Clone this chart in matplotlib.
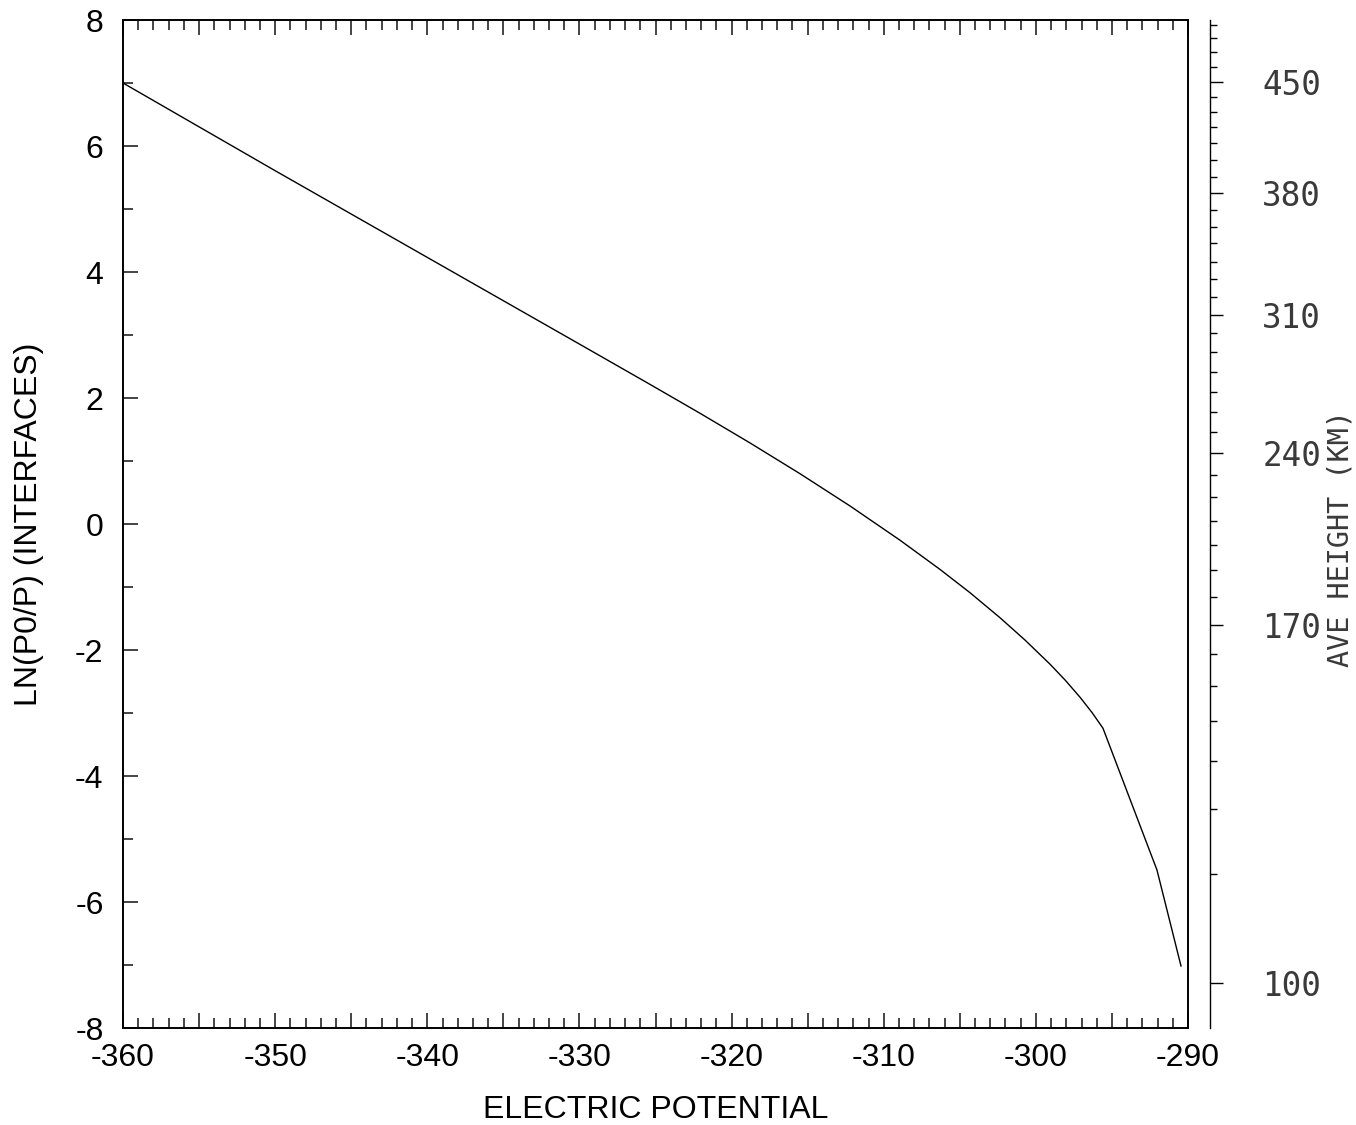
import numpy as np
import matplotlib
matplotlib.use("Agg")
import matplotlib.pyplot as plt
from matplotlib.ticker import MultipleLocator, FixedLocator, FuncFormatter

plt.rcParams['font.family'] = ['Liberation Sans', 'DejaVu Sans']
plt.rcParams['axes.unicode_minus'] = False

# curve
potential = [-360, -350, -340, -330, -325.36, -322.07, -318.79, -315.50,
             -312.22, -308.93, -306.30, -304.33, -302.36, -300.71, -299.07,
             -298.08, -297.10, -296.31, -295.59, -292.04, -290.46]
ln_p0_p = [7.0, 5.608, 4.232, 2.856, 2.216, 1.757, 1.287, 0.798,
           0.287, -0.257, -0.721, -1.090, -1.487, -1.843, -2.225,
           -2.476, -2.749, -2.992, -3.241, -5.492, -7.016]

# average height scale (km) and where each value sits on the ln(P0/P) axis
height_km = list(range(100, 500, 10))
height_ln = [-7.281, -5.560, -4.529, -3.762, -3.122, -2.571, -2.063, -1.603,
             -1.154, -0.730, -0.333, 0.052, 0.433, 0.778, 1.122, 1.465,
             1.783, 2.100, 2.417, 2.735, 3.027, 3.317, 3.608, 3.884,
             4.163, 4.456, 4.719, 4.984, 5.259, 5.513, 5.778, 6.043,
             6.297, 6.544, 6.783, 7.021, 7.259, 7.487, 7.710, 7.921]
height_labels = [100, 170, 240, 310, 380, 450]

fig = plt.figure(figsize=(13.56, 11.25), dpi=100)
ax = fig.add_axes([123/1356, 97/1125, 1065/1356, 1008/1125])

ax.plot(potential, ln_p0_p, color='black', lw=1.0)
ax.set_xlim(-360, -290)
ax.set_ylim(-8, 8)

ax.xaxis.set_major_locator(MultipleLocator(5))
ax.xaxis.set_minor_locator(MultipleLocator(1))
ax.xaxis.set_major_formatter(FuncFormatter(lambda v, p: '%d' % v if v % 10 == 0 else ''))
ax.yaxis.set_major_locator(MultipleLocator(2))
ax.yaxis.set_minor_locator(MultipleLocator(1))

ax.tick_params(which='both', direction='in', top=True, right=True,
               color='#444444', width=1.4, labelsize=23)
ax.tick_params(which='major', length=11)
ax.tick_params(which='minor', length=7)
ax.tick_params(axis='x', which='major', pad=11)
ax.tick_params(axis='y', which='major', pad=14)
for s in ax.spines.values():
    s.set_linewidth(1.4)

ax.set_xlabel('ELECTRIC POTENTIAL', fontsize=23)
ax.xaxis.set_label_coords(0.5, -0.066)
ax.set_ylabel('LN(P0/P) (INTERFACES)', fontsize=23)
ax.yaxis.set_label_coords(-0.074, 0.5)

# separate height axis on the right
ax2 = ax.twinx()
ax2.set_ylim(-8, 8)
for side in ['left', 'top', 'bottom']:
    ax2.spines[side].set_visible(False)
ax2.spines['right'].set_position(('outward', 16))
ax2.spines['right'].set_linewidth(1.0)
major_ln = [v for h, v in zip(height_km, height_ln) if h in height_labels]
minor_ln = [v for h, v in zip(height_km, height_ln) if h not in height_labels]
ax2.yaxis.set_major_locator(FixedLocator(major_ln))
ax2.yaxis.set_minor_locator(FixedLocator(minor_ln))
ax2.set_yticklabels([str(h) for h in height_labels])
ax2.tick_params(which='both', direction='out', width=1.0, color='black')
ax2.tick_params(which='major', length=9.4, pad=28)
ax2.tick_params(which='minor', length=5)
for t in ax2.get_yticklabels():
    t.set_family('DejaVu Sans Mono')
    t.set_fontsize(23.5)
    t.set_color('#3a3a3a')

fig.text(1340/1356, 1 - 539/1125, 'AVE HEIGHT (KM)', rotation=90,
         ha='center', va='center', family='DejaVu Sans Mono', fontsize=20.5,
         color='#3a3a3a')

fig.savefig('out.png', dpi=100)
